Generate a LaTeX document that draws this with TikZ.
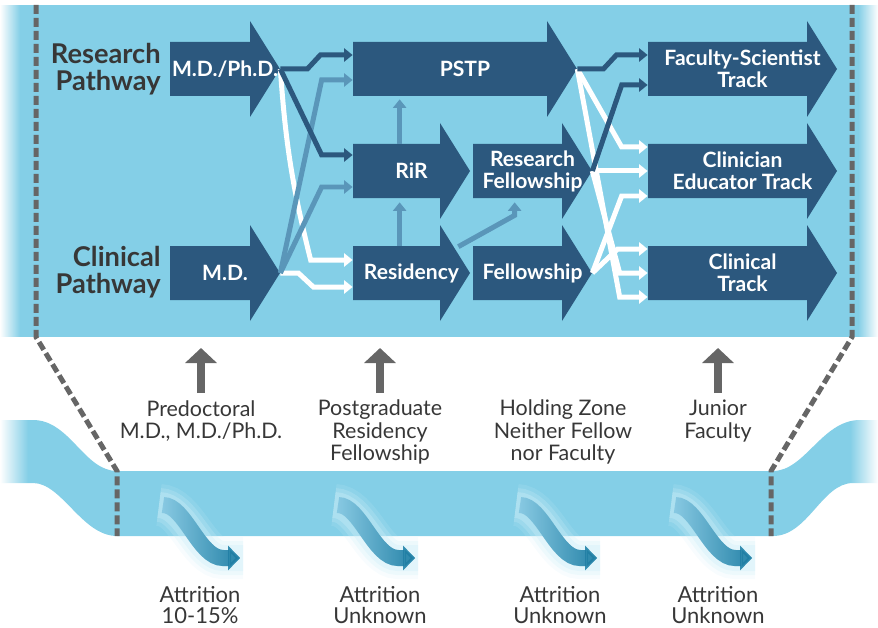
\documentclass[tikz,border=0pt]{standalone}
\usepackage{fontspec}
\setmainfont{Lato}
\usetikzlibrary{arrows.meta,calc,fadings}

\definecolor{panelblue}{RGB}{132,207,231}
\definecolor{trackblue}{RGB}{44,88,126}
\definecolor{steelblue}{RGB}{90,150,185}
\definecolor{dashgray}{RGB}{102,102,102}
\definecolor{labelgray}{RGB}{55,55,55}
\definecolor{attrteal}{RGB}{30,125,163}
\definecolor{attrlight}{RGB}{145,208,232}
\definecolor{glowblue}{RGB}{205,238,248}

\tikzset{
	tracktext/.style={inner sep=0pt, text=white, align=center, minimum height=1.08cm,
		font=\fontsize{12}{12.5}\selectfont\bfseries},
	pathlabel/.style={anchor=east, inner sep=0pt, align=right, text=labelgray,
		font=\fontsize{15.5}{15.5}\selectfont\bfseries},
	stagelabel/.style={align=center, inner sep=0pt, text=labelgray, font=\fontsize{12.2}{12.6}\selectfont},
	attrlabel/.style={align=center, inner sep=0pt, text=labelgray, font=\fontsize{12.5}{12.3}\selectfont},
	link/.style={line width=0.1cm, -{Triangle[width=0.26cm,length=0.17cm]}},
	darklink/.style={link, trackblue},
	steellink/.style={link, steelblue},
	whitelink/.style={link, white},
	stagearrow/.style={dashgray, line width=0.16cm, -{Triangle[width=0.62cm,length=0.3cm]}},
	zoomline/.style={dashgray, line width=0.1cm, dash pattern=on 0.18cm off 0.08cm},
}

% block arrow: name, left x, tip x, centre y, label
\newcommand{\trackarrow}[5]{%
	\fill[trackblue] (#2,#4-27) -- (#3-30,#4-27) -- (#3-30,#4-48) -- (#3,#4)
		-- (#3-30,#4+48) -- (#3-30,#4+27) -- (#2,#4+27) -- cycle;
	\node[tracktext, minimum width={(#3-#2)*0.02cm}] (#1) at ({(#2+#3)/2},#4) {#5};
}

% wavy attrition arrow starting at (x,y)
\newcommand{\attrition}[2]{%
	\foreach \glowwidth/\glowop in {42/0.15,34/0.25,26/0.35}
		\draw[glowblue, line width=\glowwidth*0.02cm, opacity=\glowop]
			(#1-4,#2) .. controls (#1+22,#2) and (#1+36,#2+53) .. (#1+60,#2+53) -- (#1+80,#2+53);
	\draw[attrlight, line width=0.32cm, -{Triangle[width=0.48cm,length=0.24cm]}]
		(#1,#2) .. controls (#1+22,#2) and (#1+36,#2+53) .. (#1+60,#2+53) -- (#1+77,#2+53);
	\draw[attrteal, line width=0.32cm, path fading=west, -{Triangle[width=0.48cm,length=0.24cm]}]
		(#1,#2) .. controls (#1+22,#2) and (#1+36,#2+53) .. (#1+60,#2+53) -- (#1+77,#2+53);
}

\begin{document}
\begin{tikzpicture}[x=0.02cm, y=-0.02cm]
	\useasboundingbox (0,0) rectangle (878,628);

	% Top panel and the lower band
	\fill[panelblue] (0,5) rectangle (878,337);
	\fill[panelblue] (117,471) -- (773,471) .. controls (805,471) and (822,420) .. (860,420)
		-- (878,420) -- (878,483) -- (853,483) .. controls (822,483) and (808,536) .. (773,536)
		-- (117,536) .. controls (82,536) and (62,483) .. (33,483) -- (0,483) -- (0,420) -- (33,420)
		.. controls (70,420) and (84,471) .. (117,471) -- cycle;
	\fill[white, path fading=east] (0,5) rectangle (20,337);
	\fill[white, path fading=west] (858,5) rectangle (878,337);
	\fill[white, path fading=east] (0,415) rectangle (28,490);
	\fill[white, path fading=west] (850,415) rectangle (878,490);

	% Dashed zoom lines
	\draw[zoomline] (36,5) -- (36,337) -- (117,471) -- (117,536);
	\draw[zoomline] (852,5) -- (852,337) -- (771,471) -- (771,536);

	% Attrition
	\attrition{163}{505}
	\attrition{338}{505}
	\attrition{520}{505}
	\attrition{675}{505}
	\node[attrlabel] (attr1) at (200,605) {Attrition\\10-15\%};
	\node[attrlabel] (attr2) at (380,605) {Attrition\\Unknown};
	\node[attrlabel] (attr3) at (560,605) {Attrition\\Unknown};
	\node[attrlabel] (attr4) at (718,605) {Attrition\\Unknown};

	% Stages
	\node[stagelabel] (predoc) at (201,421) {Predoctoral\\M.D., M.D./Ph.D.};
	\node[stagelabel] (postgrad) at (380,432) {Postgraduate\\Residency\\Fellowship};
	\node[stagelabel] (holding) at (563,432) {Holding Zone\\Neither Fellow\\nor Faculty};
	\node[stagelabel] (junior) at (718,421) {Junior\\Faculty};
	\coordinate (stagebase) at (0,393);
	\coordinate (stagetop) at (0,348);
	\draw[stagearrow] (predoc.north |- stagebase) -- (predoc.north |- stagetop);
	\draw[stagearrow] (postgrad.north |- stagebase) -- (postgrad.north |- stagetop);
	\draw[stagearrow] (junior.north |- stagebase) -- (junior.north |- stagetop);

	% Pathways
	\node[pathlabel] (research) at (161,69) {Research\\Pathway};
	\node[pathlabel] (clinicalpath) at (161,272) {Clinical\\Pathway};

	\trackarrow{mdphd}{170}{280}{69}{M.D./Ph.D.}
	\trackarrow{md}{170}{280}{273}{M.D.}
	\trackarrow{pstp}{353}{577}{69}{PSTP}
	\trackarrow{rir}{353}{470}{171}{RiR}
	\trackarrow{residency}{353}{470}{273}{Residency}
	\trackarrow{resfellow}{473}{592}{171}{Research\\Fellowship}
	\trackarrow{fellowship}{473}{592}{273}{Fellowship}
	\trackarrow{facsci}{648}{837}{69}{Faculty-Scientist\\Track}
	\trackarrow{clined}{648}{837}{171}{Clinician\\Educator Track}
	\trackarrow{clinical}{648}{837}{273}{Clinical\\Track}

	% Links out of medical school
	\draw[whitelink] (mdphd.east) to[bend right=5] ($(residency.west)+(-42,-13)$) -- ($(residency.west)+(0,-13)$);
	\draw[whitelink] (md.east) -- ++(18,0) -- ++(15,14) -- ($(residency.west)+(0,14)$);
	\draw[steellink] (md.east) -- ($(pstp.west)+(-31,11)$) -- ($(pstp.west)+(0,11)$);
	\draw[steellink] (md.east) -- ($(rir.west)+(-31,16)$) -- ($(rir.west)+(0,16)$);
	\draw[darklink] (mdphd.east) -- ++(27,0) -- ++(13,-14) -- ($(pstp.west)+(0,-14)$);
	\draw[darklink] (mdphd.east) -- ($(rir.west)+(-31,-16)$) -- ($(rir.west)+(0,-16)$);

	% Links between postgraduate tracks
	\draw[steellink] ($(residency.north west)+(47,0)$) -- ($(rir.south west)+(47,4)$);
	\draw[steellink] ($(rir.north west)+(47,0)$) -- ($(pstp.south west)+(47,3)$);
	\draw[steellink] ($(residency.north east)+(-12,1)$) -- ($(resfellow.south west)+(42,17)$)
		-- ($(resfellow.south west)+(42,4)$);

	% Links into faculty tracks
	\draw[whitelink] (pstp.east) -- ($(clined.west)+(-26,-24)$) -- ($(clined.west)+(0,-24)$);
	\draw[whitelink] (resfellow.east) -- (clined.west);
	\draw[whitelink] (fellowship.east) -- ($(clined.west)+(-26,25)$) -- ($(clined.west)+(0,25)$);
	\draw[whitelink] (fellowship.east) -- ($(clinical.west)+(-30,-24)$) -- ($(clinical.west)+(0,-24)$);
	\draw[whitelink] (resfellow.east) -- ($(clinical.west)+(-28,0)$) -- (clinical.west);
	\draw[whitelink] (pstp.east) -- ($(clinical.west)+(-28,24)$) -- ($(clinical.west)+(0,24)$);
	\draw[darklink] (pstp.east) -- ++(26,0) -- ++(13,-14) -- ($(facsci.west)+(0,-14)$);
	\draw[darklink] (resfellow.east) -- ($(facsci.west)+(-26,16)$) -- ($(facsci.west)+(0,16)$);
\end{tikzpicture}
\end{document}
